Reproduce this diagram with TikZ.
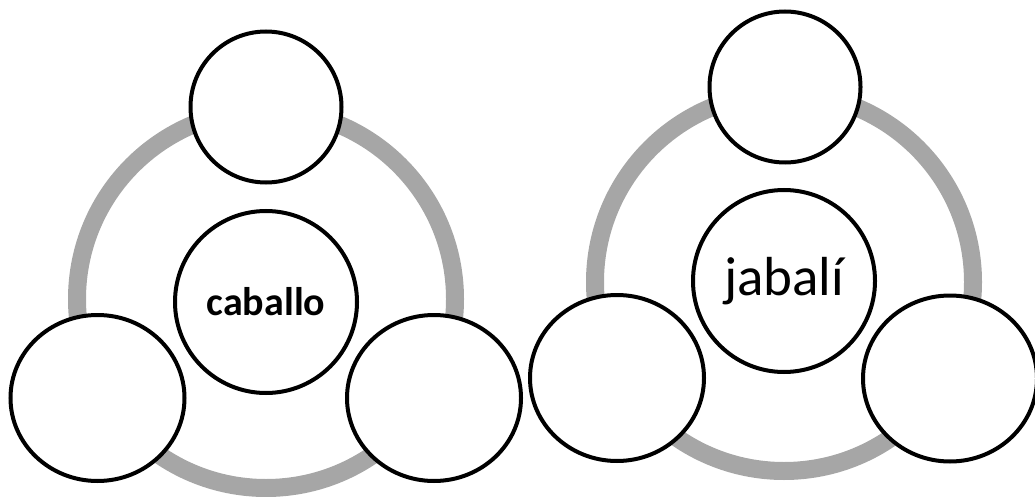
\documentclass[tikz,border=0pt]{standalone}
\usepackage{fontspec}
\setmainfont{Carlito}
\usetikzlibrary{shapes.geometric}
\definecolor{ringgray}{RGB}{166,166,166}

\begin{document}
\begin{tikzpicture}[x=1pt, y=-1pt,
	ring/.style={draw=ringgray, line width=18pt},
	ball/.style={draw=black, fill=white, line width=4pt, inner sep=0pt},
	topball/.style={ball, circle, minimum size=151pt},
	hub/.style={ball, circle, minimum size=182pt},
	football/.style={ball, ellipse, minimum width=174pt, minimum height=166pt}]
	\useasboundingbox (0,0) rectangle (1035,497);
	\draw[ring] (266,299) circle[radius=189pt];
	\node[topball] (ctop) at (266,107) {};
	\node[hub, font=\fontsize{40}{48}\selectfont\bfseries] (chub) at (266,302) {caballo};
	\node[football] (cleft) at (97.5,398) {};
	\node[football] (cright) at (434,398) {};
	\draw[ring] (784,282) circle[radius=189pt];
	\node[topball] (jtop) at (785,87) {};
	\node[hub, font=\fontsize{55}{66}\selectfont] (jhub) at (784,281) {jabalí};
	\node[football] (jleft) at (617,378) {};
	\node[football] (jright) at (950,378.5) {};
\end{tikzpicture}
\end{document}
